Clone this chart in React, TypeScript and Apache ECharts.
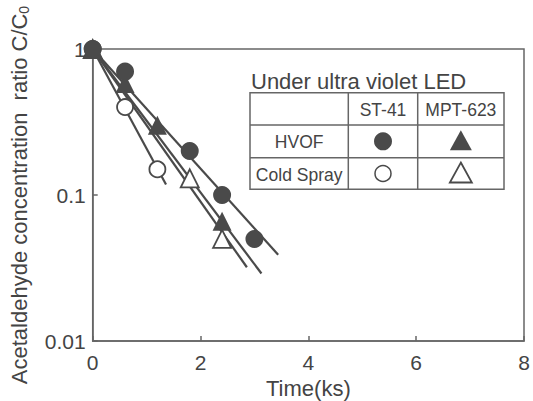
import React, { useEffect, useRef } from "react";
import * as echarts from "echarts";

const xTicks = [0, 2, 4, 6, 8];
const hvofST41: [number, number][] = [[0, 1], [0.6, 0.7], [1.8, 0.2], [2.4, 0.1], [3.0, 0.05]];
const hvofMPT623: [number, number][] = [[0, 1], [0.6, 0.58], [1.2, 0.3], [2.4, 0.066]];
const coldST41: [number, number][] = [[0, 1], [0.6, 0.4], [1.2, 0.15]];
const coldMPT623: [number, number][] = [[0, 1], [1.8, 0.13], [2.4, 0.05]];
const fitHvofST41: [number, number][] = [[0, 1], [3.44, 0.039]];
const fitHvofMPT623: [number, number][] = [[0, 1], [3.13, 0.029]];
const fitColdST41: [number, number][] = [[0, 1], [1.36, 0.118]];
const fitColdMPT623: [number, number][] = [[0, 1], [2.86, 0.032]];
const tableTitle = "Under ultra violet LED";
const tableCols = ["ST-41", "MPT-623"];
const tableRows = ["HVOF", "Cold Spray"];

const INK = "#4a4a4a";
const TXT = "#444";
const FONT = "'Liberation Sans', Arial, sans-serif";

export default function App() {
  const ref = useRef<HTMLDivElement>(null);
  useEffect(() => {
    if (!ref.current) return;
    const chart = echarts.init(ref.current, undefined, { renderer: "svg" });
    const lineSeries = (data: [number, number][]) => ({
      type: "line",
      data,
      showSymbol: false,
      lineStyle: { color: INK, width: 2.2 },
      z: 2,
      silent: true,
    });
    const scatter = (data: [number, number][], symbol: string, filled: boolean, size: number, z: number) => ({
      type: "scatter",
      data,
      symbol,
      symbolSize: size,
      itemStyle: filled
        ? { color: INK, opacity: 1 }
        : { color: "#fff", borderColor: INK, borderWidth: 1.8, opacity: 1 },
      z,
    });
    const L = 250, R = 504, T = 92.7;
    const cols = [250, 348.3, 417.7, 504];
    const rows = [92.7, 125, 157.7, 189.3];
    const lineStyle = { stroke: "#666", lineWidth: 1.5 };
    const graphics: any[] = [
      { type: "text", x: 251, y: 81, style: { text: tableTitle, font: `22px ${FONT}`, fill: TXT, verticalAlign: "middle" } },
      { type: "rect", shape: { x: L, y: T, width: R - L, height: rows[3] - T }, style: { fill: "none", ...lineStyle } },
    ];
    for (let i = 1; i < 3; i++) {
      graphics.push({ type: "line", shape: { x1: L, y1: rows[i], x2: R, y2: rows[i] }, style: lineStyle });
      graphics.push({ type: "line", shape: { x1: cols[i], y1: T, x2: cols[i], y2: rows[3] }, style: lineStyle });
    }
    const cx = (i: number) => (cols[i] + cols[i + 1]) / 2;
    const cy = (i: number) => (rows[i] + rows[i + 1]) / 2;
    tableCols.forEach((t, i) => {
      graphics.push({ type: "text", x: cx(i + 1), y: cy(0) + 1, style: { text: t, font: `17.5px ${FONT}`, fill: TXT, align: "center", verticalAlign: "middle" } });
    });
    tableRows.forEach((t, i) => {
      graphics.push({ type: "text", x: cx(0), y: cy(i + 1) + 1, style: { text: t, font: `17.5px ${FONT}`, fill: TXT, align: "center", verticalAlign: "middle" } });
    });
    graphics.push({ type: "circle", shape: { cx: cx(1), cy: cy(1), r: 9 }, style: { fill: INK } });
    graphics.push({ type: "circle", shape: { cx: cx(1), cy: cy(2), r: 8 }, style: { fill: "#fff", stroke: INK, lineWidth: 1.5 } });
    const tri = (x: number, y: number) => [[x, y - 11], [x + 11, y + 9], [x - 11, y + 9]];
    graphics.push({ type: "polygon", shape: { points: tri(cx(2), cy(1)) }, style: { fill: INK } });
    graphics.push({ type: "polygon", shape: { points: tri(cx(2), cy(2)) }, style: { fill: "#fff", stroke: INK, lineWidth: 1.8 } });

    chart.setOption({
      animation: false,
      backgroundColor: "#fff",
      grid: {
        left: 92.7, right: 9, top: 49, bottom: 60,
        outerBoundsMode: "none", containLabel: false,
        show: true, borderColor: "#666", borderWidth: 1.5, backgroundColor: "transparent",
      },
      xAxis: {
        type: "value",
        min: xTicks[0],
        max: xTicks[xTicks.length - 1],
        interval: 2,
        name: "Time(ks)",
        nameLocation: "middle",
        nameGap: 33,
        nameTextStyle: { fontFamily: FONT, fontSize: 22, color: TXT },
        axisLine: { lineStyle: { color: "#666", width: 1.5 } },
        axisTick: { inside: true, length: 5, lineStyle: { color: "#666", width: 1.5 } },
        axisLabel: { fontFamily: FONT, fontSize: 21, color: TXT, margin: 11 },
        splitLine: { show: false },
      },
      yAxis: {
        type: "log",
        logBase: 10,
        min: 0.01,
        max: 1,
        name: "Acetaldehyde concentration  ratio C/C{sub|0}",
        nameLocation: "middle",
        nameRotate: 90,
        nameGap: 62,
        nameTextStyle: {
          fontFamily: FONT, fontSize: 22, color: TXT,
          rich: { sub: { fontFamily: FONT, fontSize: 14, color: TXT, verticalAlign: "bottom", padding: [9, 0, 0, 0] } },
        },
        axisLine: { lineStyle: { color: "#666", width: 1.5 } },
        axisTick: { inside: true, length: 5, lineStyle: { color: "#666", width: 1.5 } },
        axisLabel: { fontFamily: FONT, fontSize: 21, color: TXT, margin: 7, formatter: (v: number) => String(v) },
        splitLine: { show: false },
        minorTick: { show: false },
      },
      graphic: graphics,
      series: [
        lineSeries(fitHvofST41),
        lineSeries(fitHvofMPT623),
        lineSeries(fitColdST41),
        lineSeries(fitColdMPT623),
        scatter(coldMPT623, "triangle", false, 18, 3),
        scatter(coldST41, "circle", false, 16, 4),
        scatter(hvofMPT623, "triangle", true, 19, 5),
        scatter(hvofST41, "circle", true, 18, 6),
      ],
    });
    return () => chart.dispose();
  }, []);
  return <div ref={ref} style={{ width: 533, height: 401, position: "absolute", left: 0, top: 0 }} />;
}
